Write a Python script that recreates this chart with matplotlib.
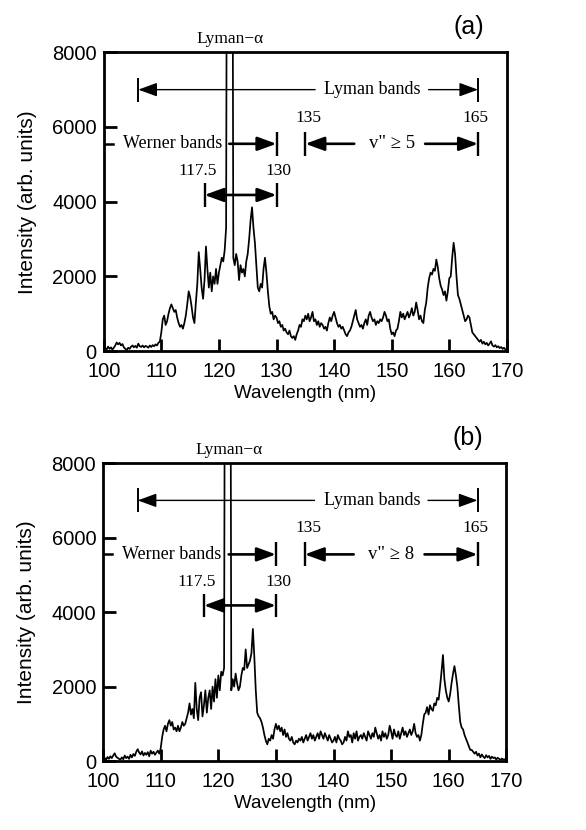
import matplotlib
matplotlib.use('Agg')
import matplotlib.pyplot as plt
import numpy as np

# wavelength grid (nm), 0.25 nm sampling
wl_start, wl_stop, wl_step = 100.0, 170.0, 0.25

# intensity (arb. units), one row = 5 nm
intensity_a = [
    20, 80, 40, 120, 60, 100, 40, 90, 150, 230, 180, 220, 150, 190, 100, 60, 30, 90, 60, 120,
    150, 100, 140, 90, 200, 130, 110, 150, 100, 140, 120, 90, 150, 110, 160, 130, 180, 150, 220, 260,
    500, 850, 950, 700, 800, 1000, 1150, 1250, 1150, 1050, 1100, 900, 750, 650, 700, 600, 750, 950, 1250, 1600,
    1450, 1200, 900, 750, 1300, 1800, 2650, 2200, 1700, 1400, 1900, 2800, 2200, 1700, 2100, 1600, 2000, 1800, 2200, 1800,
    2100, 2300, 2500, 2400, 2700, 3300, 20000, 20000, 20000, 20000, 2500, 2300, 2600, 2400, 1900, 2300, 2100, 2200, 2000, 2400,
    2600, 3000, 3500, 3850, 3300, 2900, 2300, 1700, 1600, 1800, 1700, 2200, 2500, 2100, 1600, 1200, 1000, 1050, 850, 950,
    900, 750, 800, 650, 700, 550, 600, 500, 450, 550, 400, 350, 400, 300, 450, 550, 700, 650, 850, 800,
    950, 850, 1000, 800, 900, 1050, 800, 850, 700, 800, 650, 750, 700, 600, 650, 550, 750, 900, 800, 950,
    1050, 900, 750, 650, 700, 600, 650, 550, 450, 400, 500, 550, 650, 800, 950, 1100, 850, 750, 650, 700,
    600, 750, 850, 700, 950, 1050, 900, 800, 850, 700, 800, 750, 850, 800, 900, 1050, 950, 800, 850, 600,
    450, 500, 400, 550, 600, 800, 1050, 900, 1000, 850, 950, 1050, 900, 1000, 1150, 950, 1050, 1300, 1100, 850,
    950, 800, 750, 1100, 1300, 1700, 1950, 2100, 2050, 2200, 2150, 2450, 2250, 1950, 1750, 1650, 1500, 1600, 1350, 1600,
    1950, 2000, 2500, 2900, 2600, 2000, 1500, 1400, 1250, 1100, 950, 800, 850, 950, 900, 700, 500, 450, 400, 350,
    300, 250, 300, 200, 250, 180, 220, 150, 200, 260, 150, 120, 160, 100, 130, 80, 110, 60, 90, 40,
    20,
]

intensity_b = [
    40, 90, 30, 110, 60, 130, 80, 150, 210, 120, 90, 60, 40, 100, 50, 150, 80, 120, 60, 170,
    100, 190, 140, 250, 320, 230, 180, 260, 150, 220, 170, 240, 130, 280, 200, 250, 170, 230, 280, 200,
    350, 650, 850, 950, 800, 1000, 1100, 950, 1050, 850, 900, 800, 950, 800, 900, 1050, 950, 1000, 1150, 1300,
    1550, 1250, 1400, 1150, 2100, 1400, 1100, 1700, 1850, 1200, 1500, 1900, 1300, 1700, 1900, 1400, 2000, 1600, 2200, 1700,
    2300, 1900, 2400, 2300, 2500, 20000, 20000, 20000, 20000, 1900, 2200, 2000, 2350, 2100, 1900, 2000, 2300, 2500, 2450, 3000,
    2500, 2600, 2700, 2900, 3550, 2800, 1900, 1300, 1200, 1150, 1050, 900, 700, 550, 450, 600, 550, 700, 600, 850,
    1000, 850, 950, 800, 900, 700, 850, 650, 750, 600, 550, 650, 500, 450, 550, 500, 600, 550, 650, 500,
    600, 700, 550, 650, 750, 600, 700, 550, 650, 750, 600, 800, 700, 600, 750, 650, 550, 700, 600, 500,
    550, 650, 500, 700, 600, 550, 450, 500, 650, 550, 800, 650, 700, 500, 750, 600, 800, 550, 650, 700,
    600, 750, 650, 550, 800, 700, 600, 750, 650, 900, 750, 600, 700, 550, 800, 650, 750, 600, 700, 950,
    800, 600, 850, 700, 650, 800, 600, 750, 900, 700, 800, 650, 750, 850, 700, 800, 1000, 750, 650, 700,
    550, 700, 1000, 1250, 1300, 1450, 1250, 1500, 1400, 1350, 1550, 1500, 1700, 1650, 2000, 2400, 2850, 2200, 1900, 1700,
    1600, 1800, 2100, 2350, 2550, 2300, 2000, 1500, 1050, 900, 850, 700, 600, 500, 400, 300, 300, 250, 200, 250,
    150, 200, 100, 180, 120, 80, 160, 100, 140, 60, 120, 80, 100, 40, 90, 60, 30, 70, 40, 50,
    30,
]

panel_labels = ['(a)', '(b)']
vib_labels = ['v" ≥ 5', 'v" ≥ 8']
xticks = [100, 110, 120, 130, 140, 150, 160, 170]
yticks = [0, 2000, 4000, 6000, 8000]

# band ranges (nm)
lyman_band = (106, 165)
werner_band = (100, 130)
werner_sub = (117.5, 130)
vib_band = (135, 165)

SANS = ['Liberation Sans', 'DejaVu Sans']
SERIF = ['Liberation Serif', 'DejaVu Serif']
HEAD = 'head_length=1.15,head_width=0.42'


def arrow(ax, x0, x1, y, lw):
    # arrow drawn from x0 to x1, head at x1
    ax.annotate('', xy=(x1, y), xytext=(x0, y),
                arrowprops=dict(arrowstyle='-|>,' + HEAD,
                                lw=lw, color='k', shrinkA=0, shrinkB=0,
                                mutation_scale=10))


def bar(ax, x, y, lw, h=320):
    ax.plot([x, x], [y - h, y + h], color='k', lw=lw, solid_capstyle='butt')


def annotate_bands(ax, vib_text):
    fs = 12.5
    # Lyman bands
    y = 7000
    bar(ax, lyman_band[0], y, 1.4)
    bar(ax, lyman_band[1], y, 1.4)
    arrow(ax, 136.7, lyman_band[0], y, 1.0)
    ax.text(146.7, y, 'Lyman bands', family=SERIF, fontsize=fs + 0.5, ha='center', va='center')
    arrow(ax, 156.4, lyman_band[1], y, 1.0)
    # Werner bands
    y = 5550
    ax.plot([werner_band[0], 101.6], [y, y], color='k', lw=1.8)
    ax.text(111.9, y, 'Werner bands', family=SERIF, fontsize=fs + 0.5, ha='center', va='center')
    arrow(ax, 121.8, werner_band[1], y, 1.9)
    bar(ax, werner_band[1], y, 1.7)
    # 117.5 - 130 double arrow
    y = 4180
    bar(ax, werner_sub[0], y, 1.7)
    bar(ax, werner_sub[1], y, 1.7)
    ax.annotate('', xy=(werner_sub[1], y), xytext=(werner_sub[0], y),
                arrowprops=dict(arrowstyle='<|-|>,' + HEAD,
                                lw=1.9, color='k', shrinkA=0, shrinkB=0,
                                mutation_scale=10))
    ax.text(116.3, 4820, '117.5', family=SERIF, fontsize=fs, ha='center', va='center')
    ax.text(130.4, 4820, '130', family=SERIF, fontsize=fs, ha='center', va='center')
    # vibrational range
    y = 5550
    bar(ax, vib_band[0], y, 1.7)
    bar(ax, vib_band[1], y, 1.7)
    arrow(ax, 143.5, vib_band[0], y, 1.9)
    ax.text(150.0, y, vib_text, family=SERIF, fontsize=fs + 1, ha='center', va='center')
    arrow(ax, 155.8, vib_band[1], y, 1.9)
    ax.text(135.6, 6250, '135', family=SERIF, fontsize=fs, ha='center', va='center')
    ax.text(164.6, 6250, '165', family=SERIF, fontsize=fs, ha='center', va='center')


wl = np.arange(wl_start, wl_stop + wl_step / 2, wl_step)

fig = plt.figure(figsize=(5.86, 8.30), dpi=100)
rects = [[0.177, 0.577, 0.688, 0.360], [0.176, 0.083, 0.688, 0.359]]

for k, (series, plab, vlab) in enumerate(zip([intensity_a, intensity_b], panel_labels, vib_labels)):
    ax = fig.add_axes(rects[k])
    ax.plot(wl, series, color='k', lw=1.25)
    ax.set_xlim(100, 170)
    ax.set_ylim(0, 8000)
    ax.set_xticks(xticks)
    ax.set_yticks(yticks)
    ax.tick_params(direction='in', length=9, width=2.0, labelsize=14.5,
                   top=False, right=False)
    ax.tick_params(axis='x', pad=8)
    ax.tick_params(axis='y', pad=5)
    for lab in ax.get_xticklabels() + ax.get_yticklabels():
        lab.set_family(SANS)
    for s in ax.spines.values():
        s.set_linewidth(2.0)
    ax.set_xlabel('Wavelength (nm)', family=SANS, fontsize=13.5, labelpad=3)
    ax.set_ylabel('Intensity (arb. units)', family=SANS, fontsize=15, labelpad=11)
    annotate_bands(ax, vlab)
    ax.text(121.9, 8130, 'Lyman−α', family=SERIF, fontsize=12.5, ha='center', va='bottom')
    ax.text(0.905, 1.045, plab, transform=ax.transAxes, family=SANS, fontsize=18,
            ha='center', va='bottom')

fig.savefig('out.png', dpi=100)
